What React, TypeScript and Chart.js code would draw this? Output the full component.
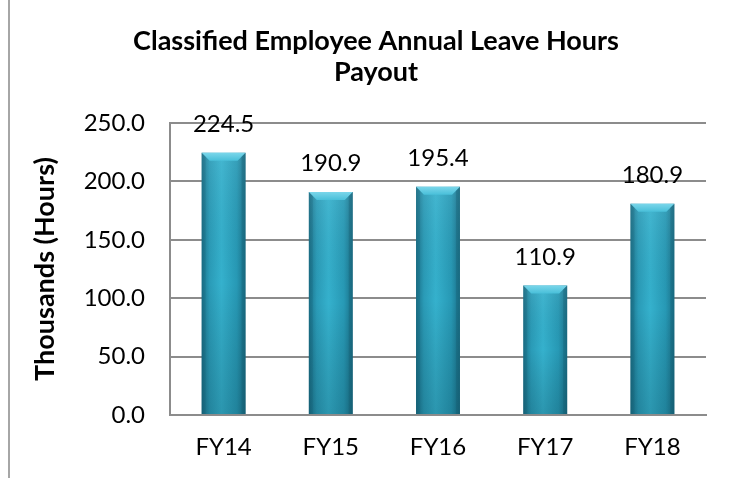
import React, { useEffect, useRef } from "react";
import { Chart, registerables } from "chart.js";

Chart.register(...registerables);

const categories = ["FY14", "FY15", "FY16", "FY17", "FY18"];
const payoutHours = [224.5, 190.9, 195.4, 110.9, 180.9];
const titleLines = ["Classified Employee Annual Leave Hours", "Payout"];
const yAxisTitle = "Thousands (Hours)";
const yMin = 0;
const yMax = 250;
const yStep = 50;

const FONT = "Lato, 'Open Sans', sans-serif";

const barLook = {
  id: "barLook",
  afterDatasetsDraw(chart: any) {
    const ctx = chart.ctx;
    const meta = chart.getDatasetMeta(0);
    ctx.save();
    meta.data.forEach((el: any, i: number) => {
      const w = el.width;
      const x0 = el.x - w / 2;
      const x1 = el.x + w / 2;
      const top = el.y;
      const bottom = el.base;
      const vg = ctx.createLinearGradient(0, top, 0, bottom);
      vg.addColorStop(0, "rgba(255,255,255,0.08)");
      vg.addColorStop(0.5, "rgba(0,0,0,0.0)");
      vg.addColorStop(1, "rgba(0,30,40,0.18)");
      ctx.fillStyle = vg;
      ctx.fillRect(x0, top, w, bottom - top);
      const b = Math.min(8, (bottom - top) / 2);
      const bg = ctx.createLinearGradient(0, top, 0, top + b);
      bg.addColorStop(0, "#7ad6ea");
      bg.addColorStop(1, "#48bfd9");
      ctx.fillStyle = bg;
      ctx.beginPath();
      ctx.moveTo(x0, top);
      ctx.lineTo(x1, top);
      ctx.lineTo(x1 - b, top + b);
      ctx.lineTo(x0 + b, top + b);
      ctx.closePath();
      ctx.fill();
      ctx.fillStyle = "rgba(20,90,110,0.3)";
      ctx.beginPath();
      ctx.moveTo(x1, top);
      ctx.lineTo(x1, bottom);
      ctx.lineTo(x1 - 4, bottom);
      ctx.lineTo(x1 - 4, top + 4);
      ctx.closePath();
      ctx.fill();
      ctx.fillStyle = "rgba(20,90,110,0.2)";
      ctx.beginPath();
      ctx.moveTo(x0, top);
      ctx.lineTo(x0, bottom);
      ctx.lineTo(x0 + 4, bottom);
      ctx.lineTo(x0 + 4, top + 4);
      ctx.closePath();
      ctx.fill();
      ctx.fillStyle = "#000";
      ctx.font = `24px ${FONT}`;
      ctx.textAlign = "center";
      ctx.textBaseline = "alphabetic";
      ctx.fillText(payoutHours[i].toFixed(1), el.x, top - 21);
    });
    ctx.restore();
  },
};

export default function App() {
  const ref = useRef<HTMLCanvasElement>(null);
  useEffect(() => {
    if (!ref.current) return;
    const chart = new Chart(ref.current, {
      type: "bar",
      data: {
        labels: categories,
        datasets: [
          {
            data: payoutHours,
            barPercentage: 0.41,
            categoryPercentage: 1,
            borderWidth: 0,
            backgroundColor: (c: any) => {
              const ch = c.chart;
              const xs = ch.scales?.x;
              if (!ch.chartArea || !xs || c.dataIndex === undefined) return "#2aa0bd";
              const cx = xs.getPixelForValue(c.dataIndex);
              const w = (ch.chartArea.width / categories.length) * 0.41;
              const g = ch.ctx.createLinearGradient(cx - w / 2, 0, cx + w / 2, 0);
              g.addColorStop(0, "#1a7189");
              g.addColorStop(0.18, "#2a9bb7");
              g.addColorStop(0.45, "#35b1cd");
              g.addColorStop(0.8, "#2799b5");
              g.addColorStop(1, "#1a7088");
              return g;
            },
          },
        ],
      },
      options: {
        responsive: false,
        animation: false,
        layout: { padding: { left: 19, right: 0, top: 0, bottom: 0 } },
        plugins: {
          legend: { display: false },
          tooltip: { enabled: false },
          title: {
            display: true,
            text: titleLines,
            color: "#000",
            font: { family: FONT, size: 27, weight: "bold", lineHeight: 1.15 },
            padding: { top: 26, bottom: 35 },
          },
        },
        scales: {
          x: {
            grid: { display: false, drawTicks: false },
            border: { display: true, color: "#8c8c8c", width: 2 },
            ticks: { color: "#000", font: { family: FONT, size: 24 }, padding: 18 },
            afterFit: (s: any) => {
              s.height = 63;
            },
          },
          y: {
            min: yMin,
            max: yMax,
            grid: { color: "#8c8c8c", lineWidth: 2, drawTicks: false },
            border: { display: true, color: "#8c8c8c", width: 2 },
            ticks: {
              stepSize: yStep,
              color: "#000",
              font: { family: FONT, size: 24 },
              padding: 25,
              callback: (v: any) => Number(v).toFixed(1),
            },
            title: {
              display: true,
              text: yAxisTitle,
              color: "#000",
              font: { family: FONT, size: 27, weight: "bold" },
              padding: { top: 10, bottom: 0 },
            },
            afterFit: (s: any) => {
              s.width = 151;
            },
          },
          yRight: {
            position: "right",
            display: true,
            grid: { display: false, drawTicks: false },
            border: { display: false },
            ticks: { display: false },
            afterFit: (s: any) => {
              s.width = 27;
            },
          },
        },
      },
      plugins: [barLook],
    });
    return () => chart.destroy();
  }, []);
  return (
    <div style={{ position: "fixed", left: 0, top: 0, width: 733, height: 478, background: "#fff" }}>
      <div style={{ position: "absolute", left: 8, top: 0, width: 2, height: 478, background: "#a6a6a6" }} />
      <canvas ref={ref} width={733} height={478} style={{ position: "absolute", left: 0, top: 0 }} />
    </div>
  );
}
